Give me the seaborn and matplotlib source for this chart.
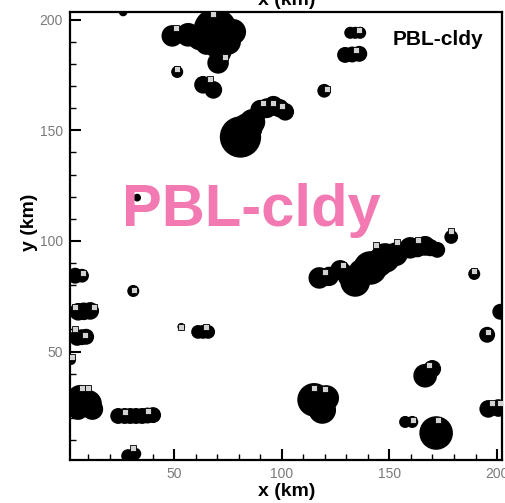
import numpy as np
import pandas as pd
import matplotlib
matplotlib.use("Agg")
import matplotlib.pyplot as plt
import seaborn as sns
from matplotlib.ticker import MultipleLocator

# ---- data (km) : cloud patches as unions of discs ----
cloud_x = [49.1, 56.5, 69.1, 77.4, 69.1, 70.4, 26.3, 51.4, 63.4, 68.2,
           62.0, 75.0, 65.0, 72.0,
           80.8, 86.3, 90.0, 96.1, 101.6, 84.0, 93.0, 99.0,
           131.8, 136.4, 134.1, 129.4, 136.0, 132.7, 119.7,
           117.4, 127.1, 134.1, 141.1, 148.0, 159.6, 166.6, 172.2,
           122.0, 131.0, 137.0, 145.0, 153.0, 163.0, 169.0,
           178.7, 189.4, 201.5, 195.4, 166.6, 169.9,
           115.0, 118.8, 120.6, 157.3, 160.6, 171.7, 195.9, 200.6,
           4.0, 7.2, 31.0, 53.3, 61.1, 65.8, 63.4, 5.4, 11.0, 8.0,
           4.9, 9.1, 7.0, 2.1,
           6.3, 10.0, 5.4, 12.0, 24.0, 29.6, 35.1, 40.2, 27.0, 32.3, 37.6,
           28.6, 31.9, 32.8]
cloud_y = [192.7, 193.2, 195.4, 194.5, 187.3, 180.5, 203.5, 176.4, 170.6, 168.3,
           192.0, 190.0, 189.0, 185.0,
           147.0, 153.8, 159.3, 161.1, 158.4, 151.0, 160.0, 160.0,
           194.1, 194.1, 194.1, 184.1, 184.6, 184.3, 167.9,
           83.3, 86.9, 81.5, 87.8, 92.3, 96.9, 97.8, 96.0,
           84.0, 84.0, 86.0, 90.0, 94.0, 97.0, 97.0,
           101.8, 85.1, 68.0, 57.6, 39.1, 42.2,
           28.2, 23.6, 29.0, 18.2, 18.2, 13.2, 24.1, 24.5,
           84.3, 84.3, 77.4, 61.2, 58.9, 58.9, 58.9, 68.0, 68.4, 68.2,
           56.2, 56.7, 56.5, 46.2,
           29.1, 26.4, 23.6, 24.0, 20.9, 20.9, 20.9, 21.3, 20.9, 20.9, 21.1,
           2.8, 3.8, 119.6]
cloud_r = [5.0, 5.5, 10.1, 6.0, 4.6, 5.0, 2.0, 2.8, 4.1, 4.1,
           6.0, 6.0, 5.0, 4.5,
           9.6, 6.0, 4.6, 4.6, 4.1, 7.0, 4.6, 4.3,
           2.8, 2.8, 2.8, 3.7, 3.7, 3.7, 3.2,
           5.0, 4.6, 6.9, 7.8, 6.9, 5.0, 4.6, 3.7,
           4.5, 5.0, 6.0, 6.5, 5.5, 4.5, 4.0,
           3.2, 2.8, 3.7, 3.7, 5.5, 4.1,
           7.8, 6.4, 6.0, 2.8, 2.8, 7.8, 4.1, 4.1,
           3.7, 3.2, 2.8, 1.8, 3.2, 3.2, 3.2, 4.1, 4.1, 4.1,
           3.7, 3.7, 3.7, 2.3,
           6.0, 6.4, 4.6, 5.0, 3.7, 3.7, 3.7, 3.7, 3.7, 3.7, 3.7,
           3.2, 2.8, 1.8]

# ---- data (km) : updraft cores (small squares) ----
core_x = [50.9, 68.1, 73.7, 51.4, 66.7, 91.3, 96.0, 100.2,
          136.0, 134.6, 121.1,
          120.2, 128.5, 143.9, 153.6, 163.4, 178.7, 189.4,
          195.9, 168.5, 115.0, 120.2, 161.1, 172.7, 197.8, 201.5,
          7.7, 31.4, 53.3, 64.9, 4.0, 12.8, 4.0, 8.6, 2.6,
          7.2, 10.0, 27.2, 37.9, 30.9]
core_y = [196.3, 202.7, 183.2, 177.8, 173.3, 162.4, 162.4, 161.1,
          195.4, 186.4, 168.8,
          86.0, 89.2, 98.2, 99.6, 100.5, 104.5, 86.5,
          58.9, 44.0, 33.6, 33.1, 19.1, 19.1, 26.8, 26.8,
          85.6, 77.8, 61.2, 61.1, 70.2, 70.2, 60.3, 57.6, 47.6,
          33.6, 33.6, 22.7, 23.2, 6.5]

x_ticks = [50, 100, 150, 200]
y_ticks = [50, 100, 150, 200]
panel_label = "PBL-cldy"
x_label = "x (km)"
y_label = "y (km)"

# ---- figure ----
sns.set_theme(style="white")
plt.rcParams["font.family"] = ["Liberation Sans", "DejaVu Sans"]

W, H = 505, 503
fig = plt.figure(figsize=(W / 100, H / 100), dpi=100)
ax_px = (70, 43, 432, 448)  # left, bottom, width, height in pixels
ax = fig.add_axes([ax_px[0] / W, ax_px[1] / H, ax_px[2] / W, ax_px[3] / H])
xlim = (1.6, 202.3)
ylim = (1.0, 203.5)
ax.set_xlim(*xlim)
ax.set_ylim(*ylim)
ax.set_facecolor("white")

ppk = ax_px[2] / (xlim[1] - xlim[0])  # pixels per km
clouds = pd.DataFrame({"x": cloud_x, "y": cloud_y, "r": cloud_r})
sizes = (2 * clouds["r"] * ppk * 72 / 100) ** 2
sns.scatterplot(data=clouds, x="x", y="y", s=sizes, color="black",
                edgecolor="none", linewidth=0, legend=False, ax=ax, zorder=2)

cores = pd.DataFrame({"x": core_x, "y": core_y})
sns.scatterplot(data=cores, x="x", y="y", marker="s", s=20, color="#d2d2d2",
                edgecolor="black", linewidth=0.6, legend=False, ax=ax, zorder=3)

ax.set_xticks(x_ticks)
ax.set_yticks(y_ticks)
ax.xaxis.set_minor_locator(MultipleLocator(10))
ax.yaxis.set_minor_locator(MultipleLocator(10))
ax.tick_params(which="major", direction="in", length=8, width=1.5, color="black",
               labelsize=10, labelcolor="#7a7a7a", bottom=True, left=True,
               top=False, right=False, pad=5)
ax.tick_params(which="minor", direction="in", length=4.5, width=1.0, color="black",
               bottom=True, left=True, top=False, right=False)
ax.set_xlabel("")
ax.set_ylabel("")
for sp in ax.spines.values():
    sp.set_visible(True)
    sp.set_color("black")
    sp.set_linewidth(1.6)

# labels
fig.text(287 / W, 1 - 492 / H, x_label, ha="center", va="center",
         fontsize=14, fontweight="bold", color="black")
fig.text(287 / W, 1 - 5 / H, x_label, ha="center", va="baseline",
         fontsize=14, fontweight="bold", color="black")
fig.text(30 / W, 1 - 222 / H, y_label, ha="center", va="center", rotation=90,
         fontsize=14, fontweight="bold", color="black")

# panel labels
fig.text(438 / W, 1 - 45 / H, panel_label, ha="center", va="baseline",
         fontsize=15, fontweight="bold", color="black", zorder=5)
fig.text(251 / W, 1 - 226 / H, panel_label, ha="center", va="baseline",
         fontsize=43, fontweight="bold", color="#F279B2", zorder=5)

fig.savefig("out.png", dpi=100)
